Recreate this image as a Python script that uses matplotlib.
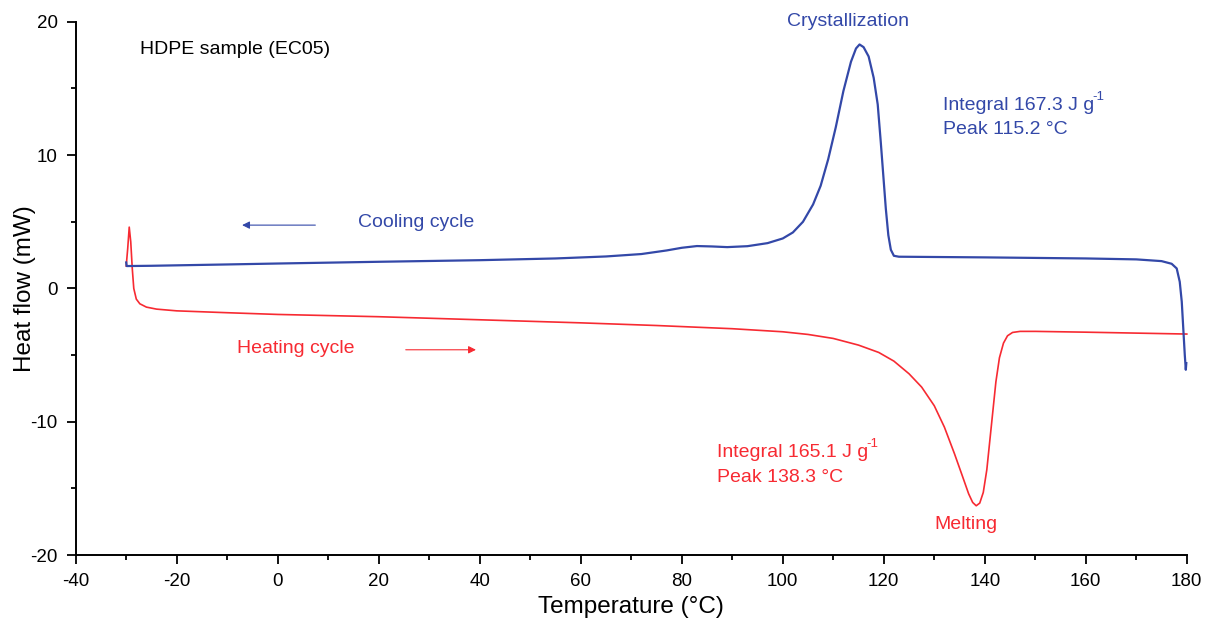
import matplotlib
matplotlib.use("Agg")
import matplotlib.pyplot as plt
from matplotlib.ticker import MultipleLocator

plt.rcParams['font.family'] = ['Liberation Sans', 'DejaVu Sans']
plt.rcParams['axes.unicode_minus'] = False

# cooling cycle (blue)
cool_T = [-30.0, -29.9, -25, -10, 0, 20, 40, 55, 65, 72, 77, 80, 83, 86, 89, 93, 97,
          100, 102, 104, 106, 107.5, 109, 110.5, 112, 113.5, 114.5, 115.2, 116, 117,
          118, 118.8, 119.4, 119.9, 120.4, 120.9, 121.4, 122, 123, 140, 160, 170, 175,
          177, 178, 178.6, 179.0, 179.3, 179.6, 179.8, 179.9]
cool_Q = [1.95, 1.68, 1.70, 1.80, 1.87, 2.00, 2.12, 2.25, 2.40, 2.58, 2.85, 3.05, 3.18,
          3.15, 3.10, 3.17, 3.40, 3.75, 4.2, 5.0, 6.3, 7.7, 9.7, 12.1, 14.8, 17.0, 18.0,
          18.3, 18.1, 17.4, 15.8, 13.8, 11.0, 8.5, 6.0, 4.0, 2.9, 2.45, 2.38, 2.33, 2.25,
          2.18, 2.05, 1.85, 1.5, 0.5, -1.0, -3.0, -5.0, -6.1, -5.6]

# heating cycle (red)
heat_T = [-30.0, -29.7, -29.4, -29.1, -28.8, -28.5, -28.0, -27.3, -26.0, -24, -20, -10,
          0, 20, 40, 60, 75, 90, 100, 105, 110, 115, 119, 122, 125, 127.5, 130, 132,
          134, 135.5, 136.8, 137.6, 138.3, 139.0, 139.7, 140.4, 141.0, 141.6, 142.2,
          142.9, 143.7, 144.5, 145.5, 147, 150, 160, 170, 180]
heat_Q = [1.68, 3.0, 4.6, 3.5, 1.5, 0.0, -0.8, -1.15, -1.40, -1.55, -1.68, -1.82, -1.95,
          -2.12, -2.35, -2.58, -2.78, -3.02, -3.25, -3.45, -3.75, -4.25, -4.8, -5.45,
          -6.4, -7.4, -8.8, -10.4, -12.4, -14.0, -15.4, -16.05, -16.3, -16.1, -15.3,
          -13.6, -11.4, -9.2, -7.0, -5.2, -4.1, -3.55, -3.3, -3.22, -3.22, -3.28,
          -3.35, -3.42]

blue = '#3348a8'
red = '#f72a32'
fs = 14

fig = plt.figure(figsize=(12.15, 6.23), dpi=100)
ax = fig.add_axes([0.0623, 0.109, 0.9145, 0.856])

ax.plot(heat_T, heat_Q, color=red, lw=1.2, clip_on=False)
ax.plot(cool_T, cool_Q, color=blue, lw=1.6, clip_on=False)

ax.set_xlim(-40, 180)
ax.set_ylim(-20, 20)
ax.xaxis.set_major_locator(MultipleLocator(20))
ax.xaxis.set_minor_locator(MultipleLocator(10))
ax.yaxis.set_major_locator(MultipleLocator(10))
ax.yaxis.set_minor_locator(MultipleLocator(5))
for s in ['top', 'right']:
    ax.spines[s].set_visible(False)
for s in ['left', 'bottom']:
    ax.spines[s].set_linewidth(1.4)
ax.tick_params(which='major', length=6.5, width=1.3, labelsize=13.5, direction='out')
ax.tick_params(which='minor', length=3.5, width=1.3, direction='out')
ax.tick_params(axis='x', which='major', pad=6.5)
ax.tick_params(axis='y', which='major', pad=6.5)

ax.set_xlabel('Temperature (°C)', fontsize=17.5)
ax.set_ylabel('Heat flow (mW)', fontsize=17.5)
ax.xaxis.set_label_coords(0.5, -0.0975)
ax.xaxis.label.set_va('center')
ax.yaxis.set_label_coords(-0.046, 0.5)
ax.yaxis.label.set_va('center')


def label_with_sup(x, y, text, color):
    t = ax.text(x, y, text, fontsize=fs, va='center', color=color)
    ax.annotate('-1', xy=(0.985, 0.62), xycoords=t, fontsize=9.5, va='bottom',
                ha='left', color=color)


ax.text(-27.3, 17.9, 'HDPE sample (EC05)', fontsize=fs, va='center', color='black')
ax.text(113, 20.05, 'Crystallization', fontsize=fs, va='center', ha='center',
        color=blue, clip_on=False)
label_with_sup(131.8, 13.75, 'Integral 167.3 J g', blue)
ax.text(131.8, 11.9, 'Peak 115.2 °C', fontsize=fs, va='center', color=blue)
ax.text(15.9, 4.97, 'Cooling cycle', fontsize=fs, va='center', color=blue)
ax.annotate('', xy=(-7.6, 4.75), xytext=(8, 4.75),
            arrowprops=dict(arrowstyle='-|>', color=blue, lw=0.8, mutation_scale=11))
ax.text(-8.0, -4.5, 'Heating cycle', fontsize=fs, va='center', color=red)
ax.annotate('', xy=(39.8, -4.6), xytext=(24.8, -4.6),
            arrowprops=dict(arrowstyle='-|>', color=red, lw=0.8, mutation_scale=11))
label_with_sup(87, -12.3, 'Integral 165.1 J g', red)
ax.text(87, -14.15, 'Peak 138.3 °C', fontsize=fs, va='center', color=red)
ax.text(136.3, -17.7, 'Melting', fontsize=fs, va='center', ha='center', color=red)

plt.savefig('out.png', dpi=100)
